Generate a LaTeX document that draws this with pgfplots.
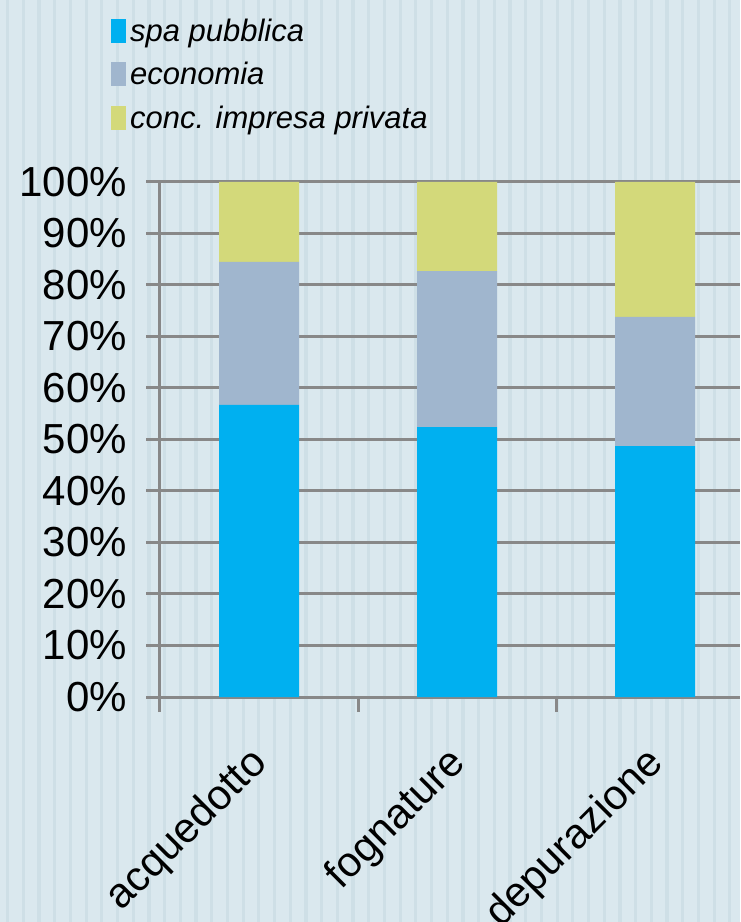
\documentclass[border=0pt]{standalone}
\usepackage{fontspec}
\setmainfont{Liberation Sans}
\usepackage{pgfplots}
\pgfplotsset{compat=1.18}

\definecolor{bgcol}{HTML}{DAE8EE}
\definecolor{stripecol}{HTML}{CEDFE6}
\definecolor{spacol}{HTML}{00B0F0}
\definecolor{ecocol}{HTML}{A0B6CE}
\definecolor{privcol}{HTML}{D3D97A}
\definecolor{gridcol}{HTML}{888888}

\begin{document}
\begin{tikzpicture}
  % background with faint vertical stripes
  \fill[bgcol] (0,0) rectangle (370pt,461pt);
  \foreach \s in {0,...,47} {
    \fill[stripecol] (\s*7.85pt+3pt,0) rectangle ++(1.6pt,461pt);
  }
  \begin{axis}[
    at={(80pt,112.5pt)}, anchor=south west,
    width=290pt, height=257.5pt, scale only axis,
    ybar stacked,
    bar width=40pt,
    xmin=-0.5, xmax=2.429,
    ymin=0, ymax=100,
    xtick=data,
    xticklabels={acquedotto,fognature,depurazione},
    major x tick style={draw=none},
    minor xtick={-0.5,0.5,1.5},
    minor x tick style={gridcol, line width=1.5pt},
    minor tick length=7.5pt,
    ytick={0,10,...,100},
    yticklabel={\pgfmathprintnumber{\tick}\%},
    major y tick style={gridcol, line width=1.5pt},
    major tick length=7pt,
    tick align=outside,
    ymajorgrids,
    grid style={gridcol, line width=1.5pt},
    axis x line*=bottom,
    axis y line*=left,
    axis line style={gridcol, line width=1.5pt, -},
    /pgf/number format/assume math mode=true,
    tick label style={font=\fontsize{21}{23}\selectfont},
    xticklabel style={rotate=45, anchor=east, xshift=-12pt, yshift=-17pt},
    yticklabel style={xshift=-6pt},
    axis background/.style={fill=none},
    legend style={at={(-0.085,1.325)}, anchor=north west, draw=none,
      fill=none, inner sep=0pt,
      font=\itshape\fontsize{15.5}{17}\selectfont,
      row sep=5pt,
      cells={anchor=west}},
    legend image code/.code={\fill[#1] (0pt,-5.5pt) rectangle (7.5pt,6.5pt);},
    legend cell align=left,
  ]
    \addplot[draw=none, fill=spacol] coordinates {(0,56.7) (1,52.4) (2,48.7)};
    \addlegendentry{spa pubblica}
    \addplot[draw=none, fill=ecocol] coordinates {(0,27.8) (1,30.3) (2,25.1)};
    \addlegendentry{economia}
    \addplot[draw=none, fill=privcol] coordinates {(0,15.5) (1,17.3) (2,26.2)};
    \addlegendentry{conc. impresa privata}
  \end{axis}
  \pgfresetboundingbox
  \useasboundingbox (0,0) rectangle (370pt,461pt);
\end{tikzpicture}
\end{document}
